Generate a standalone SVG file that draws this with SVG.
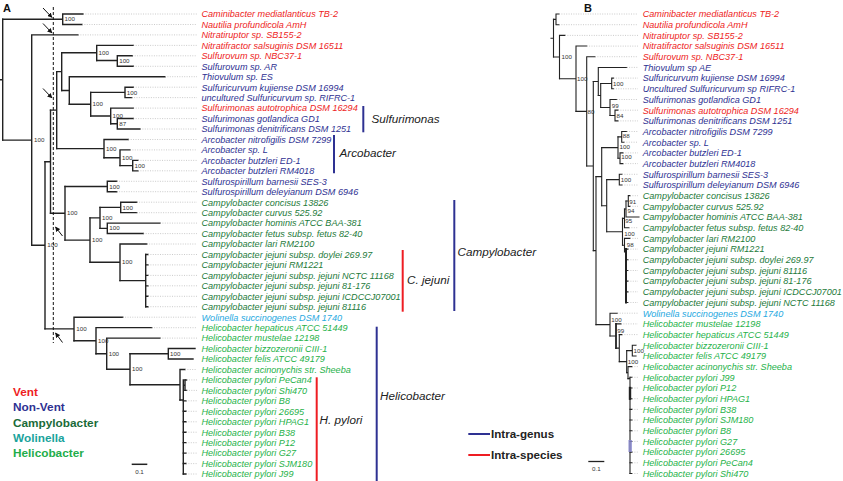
<svg xmlns="http://www.w3.org/2000/svg" width="843" height="481" viewBox="0 0 843 481">
<style>
.t{font-family:"Liberation Sans",Arial,sans-serif;font-style:italic;font-size:9.1px}
.red{fill:#ee1d23}.nv{fill:#2e3192}.cg{fill:#1d7a3a}.wl{fill:#27a9e1}.hg{fill:#26b24a}
.bs{font-family:"Liberation Sans Narrow","Liberation Sans",sans-serif;font-size:6.2px;fill:#333}
.br{stroke:#222;stroke-width:1.4;fill:none;stroke-linecap:square}
.bb{stroke:#222;stroke-width:1.1;fill:none;stroke-linecap:square}
.ld{stroke:#b5b5b5;stroke-width:0.7;stroke-dasharray:1,1.4;fill:none}
.gl{font-family:"Liberation Sans",Arial,sans-serif;font-style:italic;font-size:11.7px;fill:#222}
.lg{font-family:"Liberation Sans",Arial,sans-serif;font-weight:bold;font-size:11.8px}
.pl{font-family:"Liberation Sans",Arial,sans-serif;font-weight:bold;font-size:11px;fill:#111}
.bar{stroke-width:2;fill:none}
.ar{stroke:#111;stroke-width:1;fill:none}
</style>
<defs>
<marker id="ah" viewBox="0 0 10 10" refX="9" refY="5" markerWidth="5" markerHeight="5" orient="auto">
<path d="M0,0 L10,5 L0,10 z" fill="#111"/>
</marker>
</defs>
<rect width="843" height="481" fill="#fff"/>
<text class="pl" x="3" y="12">A</text>
<text class="pl" x="584" y="12">B</text>

<!-- Panel A tree branches -->
<g id="connectors-A" class="br">
<path d="M0,79.7H2.7M2.7,19.2V140.1"/>
<path d="M2.7,19.2H62.7M62.7,14V24.5M62.7,14H83M62.7,24.5H82"/>
<path d="M2.7,140.1H31.7M31.7,34.9V245.3M31.7,34.9H78"/>
<path d="M31.7,245.3H45M45,161.7V328.9"/>
<path d="M45,161.7H50.5M50.5,110.1V213.3"/>
<path d="M50.5,110.1H56.7M56.7,71.6V148.6"/>
<path d="M56.7,71.6H61.7M61.7,52.75V90.46"/>
<path d="M61.7,52.75H96.7M96.7,45.37V60.55M96.7,45.37H133.3"/>
<path d="M96.7,60.55H117.3M117.3,55.82V66.28M117.3,55.82H132.3M117.3,66.28H133.3"/>
<path d="M61.7,90.46H69.3M69.3,76.73V104.18M69.3,76.73H165"/>
<path d="M69.3,104.18H90.7M90.7,92.42V115.94"/>
<path d="M90.7,92.42H125M125,87.19V97.64M125,87.19H133.3M125,97.64H131.7"/>
<path d="M90.7,115.94H110.7M110.7,108.1V123.78M110.7,108.1H133.3"/>
<path d="M110.7,123.78H117.3M117.3,118.55V129.01M117.3,118.55H133.3M117.3,129.01H140"/>
<path d="M56.7,148.6H104M104,139.46V157.76M104,139.46H128.3"/>
<path d="M104,157.76H120M120,149.92V165.6M120,149.92H130"/>
<path d="M120,165.6H132.7M132.7,160.37V170.83M132.7,160.37H138M132.7,170.83H138"/>
<path d="M50.5,213.3H65M65,186.5V240.1"/>
<path d="M65,186.5H107.3M107.3,181.28V191.74M107.3,181.28H116.7M107.3,191.74H116.7"/>
<path d="M65,240.1H90M90,217.88V262.3"/>
<path d="M90,217.88H100M100,207.42V228.33"/>
<path d="M100,207.42H120.7M120.7,202.19V212.65M120.7,202.19H136.7M120.7,212.65H136.7"/>
<path d="M100,228.33H107.3M107.3,223.1V233.56M107.3,223.1H160M107.3,233.56H143.3"/>
<path d="M90,262.3H120M120,244.01V280.6M120,244.01H146.7"/>
<path d="M120,280.6H145.7M145.7,254.47V306.74"/>
<path d="M145.7,254.47H148M145.7,264.92H148M145.7,275.38H148M145.7,285.83H148M145.7,296.29H148M145.7,306.74H148"/>
<path d="M45,328.9H74M74,317.2V340.7M74,317.2H122.7"/>
<path d="M74,340.7H96M96,327.65V353.7M96,327.65H151.7"/>
<path d="M96,353.7H106.7M106.7,338.11V369.25M106.7,338.11H160"/>
<path d="M106.7,369.25H130M130,353.79V384.7"/>
<path d="M130,353.79H168.3M168.3,348.56V359.02M168.3,348.56H195M168.3,359.02H193"/>
<path d="M130,384.7H180M180,369.47V400M180,369.47H185"/>
<path d="M180,400H183.3M183.3,379.93V474.02M183.3,385.2H185M185,379.93V390.38"/>
<path d="M185,379.93H186.5M185,390.38H186.5M183.3,400.84H186M183.3,411.29H186M183.3,421.75H186M183.3,432.2H186M183.3,442.66H186M183.3,453.11H186M183.3,463.57H186M183.3,474.02H186"/>
</g>

<!-- Panel A bootstrap values -->
<g id="bootstrap-A" class="bs">
<text x="64.5" y="21.4">100</text>
<text x="34" y="142.2">100</text>
<text x="47.3" y="247.4">100</text>
<text x="98.5" y="54.9">100</text>
<text x="119.2" y="62.7">100</text>
<text x="126.8" y="94.5">100</text>
<text x="92.6" y="106.3">100</text>
<text x="112.5" y="118">100</text>
<text x="119.2" y="125.9">87</text>
<text x="106" y="150.7">100</text>
<text x="122" y="159.9">100</text>
<text x="134.5" y="167.7">100</text>
<text x="67" y="215.4">100</text>
<text x="109.3" y="188.6">100</text>
<text x="92" y="242.2">100</text>
<text x="102" y="220">100</text>
<text x="122.6" y="209.5">100</text>
<text x="109.3" y="230.4">100</text>
<text x="122" y="264.4">100</text>
<text x="76.3" y="331">100</text>
<text x="98" y="342.8">100</text>
<text x="108.7" y="355.8">100</text>
<text x="132" y="371.3">100</text>
<text x="170" y="355.9">100</text>
</g>

<!-- dashed line and arrows -->
<g id="markers-A">
<path d="M53.3,7V343" stroke="#111" stroke-width="1" stroke-dasharray="3,2" fill="none"/>
<path class="ar" d="M43,8L52,17.5" marker-end="url(#ah)"/>
<path class="ar" d="M43,23.5L52,33" marker-end="url(#ah)"/>
<path class="ar" d="M43,88.5L52,98" marker-end="url(#ah)"/>
<path class="ar" d="M62.5,236L55.5,227" marker-end="url(#ah)"/>
<path class="ar" d="M62.5,342.5L55.5,333" marker-end="url(#ah)"/>
</g>

<!-- Panel A taxa -->
<g id="taxa-A" class="t">
<g id="a01"><path class="ld" d="M83,14H197"/><text class="red" x="201.5" y="17.3">Caminibacter mediatlanticus TB-2</text></g>
<g id="a02"><path class="ld" d="M82,24.5H197"/><text class="red" x="201.5" y="27.8">Nautilia profundicola AmH</text></g>
<g id="a03"><path class="ld" d="M78,34.9H197"/><text class="red" x="201.5" y="38.2">Nitratiruptor sp. SB155-2</text></g>
<g id="a04"><path class="ld" d="M133.3,45.4H197"/><text class="red" x="201.5" y="48.7">Nitratifractor salsuginis DSM 16511</text></g>
<g id="a05"><path class="ld" d="M132.3,55.8H197"/><text class="red" x="201.5" y="59.1">Sulfurovum sp. NBC37-1</text></g>
<g id="a06"><path class="ld" d="M133.3,66.3H197"/><text class="nv" x="201.5" y="69.6">Sulfurovum sp. AR</text></g>
<g id="a07"><path class="ld" d="M165,76.7H197"/><text class="nv" x="201.5" y="80">Thiovulum sp. ES</text></g>
<g id="a08"><path class="ld" d="M133.3,87.2H197"/><text class="nv" x="201.5" y="90.5">Sulfuricurvum kujiense DSM 16994</text></g>
<g id="a09"><path class="ld" d="M131.7,97.6H197"/><text class="nv" x="201.5" y="100.9">uncultured Sulfuricurvum sp. RIFRC-1</text></g>
<g id="a10"><path class="ld" d="M133.3,108.1H197"/><text class="red" x="201.5" y="111.4">Sulfurimonas autotrophica DSM 16294</text></g>
<g id="a11"><path class="ld" d="M133.3,118.6H197"/><text class="nv" x="201.5" y="121.9">Sulfurimonas gotlandica GD1</text></g>
<g id="a12"><path class="ld" d="M140,129H197"/><text class="nv" x="201.5" y="132.3">Sulfurimonas denitrificans DSM 1251</text></g>
<g id="a13"><path class="ld" d="M128.3,139.5H197"/><text class="nv" x="201.5" y="142.8">Arcobacter nitrofigilis DSM 7299</text></g>
<g id="a14"><path class="ld" d="M130,149.9H197"/><text class="nv" x="201.5" y="153.2">Arcobacter sp. L</text></g>
<g id="a15"><path class="ld" d="M138,160.4H197"/><text class="nv" x="201.5" y="163.7">Arcobacter butzleri ED-1</text></g>
<g id="a16"><path class="ld" d="M138,170.8H197"/><text class="nv" x="201.5" y="174.1">Arcobacter butzleri RM4018</text></g>
<g id="a17"><path class="ld" d="M116.7,181.3H197"/><text class="nv" x="201.5" y="184.6">Sulfurospirillum barnesii SES-3</text></g>
<g id="a18"><path class="ld" d="M116.7,191.7H197"/><text class="nv" x="201.5" y="195">Sulfurospirillum deleyianum DSM 6946</text></g>
<g id="a19"><path class="ld" d="M136.7,202.2H197"/><text class="cg" x="201.5" y="205.5">Campylobacter concisus 13826</text></g>
<g id="a20"><path class="ld" d="M136.7,212.7H197"/><text class="cg" x="201.5" y="216">Campylobacter curvus 525.92</text></g>
<g id="a21"><path class="ld" d="M160,223.1H197"/><text class="cg" x="201.5" y="226.4">Campylobacter hominis ATCC BAA-381</text></g>
<g id="a22"><path class="ld" d="M143.3,233.6H197"/><text class="cg" x="201.5" y="236.9">Campylobacter fetus subsp. fetus 82-40</text></g>
<g id="a23"><path class="ld" d="M146.7,244H197"/><text class="cg" x="201.5" y="247.3">Campylobacter lari RM2100</text></g>
<g id="a24"><path class="ld" d="M148,254.5H197"/><text class="cg" x="201.5" y="257.8">Campylobacter jejuni subsp. doylei 269.97</text></g>
<g id="a25"><path class="ld" d="M148,264.9H197"/><text class="cg" x="201.5" y="268.2">Campylobacter jejuni RM1221</text></g>
<g id="a26"><path class="ld" d="M148,275.4H197"/><text class="cg" x="201.5" y="278.7">Campylobacter jejuni subsp. jejuni NCTC 11168</text></g>
<g id="a27"><path class="ld" d="M148,285.8H197"/><text class="cg" x="201.5" y="289.1">Campylobacter jejuni subsp. jejuni 81-176</text></g>
<g id="a28"><path class="ld" d="M148,296.3H197"/><text class="cg" x="201.5" y="299.6">Campylobacter jejuni subsp. jejuni ICDCCJ07001</text></g>
<g id="a29"><path class="ld" d="M148,306.7H197"/><text class="cg" x="201.5" y="310">Campylobacter jejuni subsp. jejuni 81116</text></g>
<g id="a30"><path class="ld" d="M122.7,317.2H197"/><text class="wl" x="201.5" y="320.5">Wolinella succinogenes DSM 1740</text></g>
<g id="a31"><path class="ld" d="M151.7,327.7H197"/><text class="hg" x="201.5" y="331">Helicobacter hepaticus ATCC 51449</text></g>
<g id="a32"><path class="ld" d="M160,338.1H197"/><text class="hg" x="201.5" y="341.4">Helicobacter mustelae 12198</text></g>
<g id="a33"><text class="hg" x="201.5" y="351.9">Helicobacter bizzozeronii CIII-1</text></g>
<g id="a34"><text class="hg" x="201.5" y="362.3">Helicobacter felis ATCC 49179</text></g>
<g id="a35"><path class="ld" d="M185,369.5H197"/><text class="hg" x="201.5" y="372.8">Helicobacter acinonychis str. Sheeba</text></g>
<g id="a36"><path class="ld" d="M186.5,379.9H197"/><text class="hg" x="201.5" y="383.2">Helicobacter pylori PeCan4</text></g>
<g id="a37"><path class="ld" d="M186.5,390.4H197"/><text class="hg" x="201.5" y="393.7">Helicobacter pylori Shi470</text></g>
<g id="a38"><path class="ld" d="M186,400.8H197"/><text class="hg" x="201.5" y="404.1">Helicobacter pylori B8</text></g>
<g id="a39"><path class="ld" d="M186,411.3H197"/><text class="hg" x="201.5" y="414.6">Helicobacter pylori 26695</text></g>
<g id="a40"><path class="ld" d="M186,421.8H197"/><text class="hg" x="201.5" y="425.1">Helicobacter pylori HPAG1</text></g>
<g id="a41"><path class="ld" d="M186,432.2H197"/><text class="hg" x="201.5" y="435.5">Helicobacter pylori B38</text></g>
<g id="a42"><path class="ld" d="M186,442.7H197"/><text class="hg" x="201.5" y="446">Helicobacter pylori P12</text></g>
<g id="a43"><path class="ld" d="M186,453.1H197"/><text class="hg" x="201.5" y="456.4">Helicobacter pylori G27</text></g>
<g id="a44"><path class="ld" d="M186,463.6H197"/><text class="hg" x="201.5" y="466.9">Helicobacter pylori SJM180</text></g>
<g id="a45"><path class="ld" d="M186,474H197"/><text class="hg" x="201.5" y="477.3">Helicobacter pylori J99</text></g>
</g>

<!-- Panel A brackets -->
<g id="brackets-A">
<path class="bar" stroke="#2e3192" d="M363.3,106V132.3"/>
<text class="gl" x="371.5" y="122.8">Sulfurimonas</text>
<path class="bar" stroke="#2e3192" d="M334,135V173.3"/>
<text class="gl" x="339.5" y="156.8">Arcobacter</text>
<path class="bar" stroke="#ee1d23" d="M402.7,250V311.7"/>
<text class="gl" x="407" y="284">C. jejuni</text>
<path class="bar" stroke="#2e3192" d="M454.3,200V311"/>
<text class="gl" x="457.5" y="255.8">Campylobacter</text>
<path class="bar" stroke="#2e3192" d="M376.7,326.7V481"/>
<text class="gl" x="380" y="399.8">Helicobacter</text>
<path class="bar" stroke="#ee1d23" d="M316.7,377.3V481"/>
<text class="gl" x="319.5" y="424">H. pylori</text>
</g>

<!-- Legends -->
<g id="legend-colours" class="lg">
<text x="13" y="395.8" fill="#ee1d23">Vent</text>
<text x="13" y="411.4" fill="#2e3192">Non-Vent</text>
<text x="13" y="426.8" fill="#1a6b38">Campylobacter</text>
<text x="13" y="441.8" fill="#1aa39c">Wolinella</text>
<text x="13" y="457.4" fill="#22ad4a">Helicobacter</text>
</g>
<g id="legend-bars">
<path class="bar" stroke="#2e3192" d="M468.3,434H490"/>
<text class="lg" x="491" y="438.2" fill="#222" style="font-size:11.6px">Intra-genus</text>
<path class="bar" stroke="#ee1d23" d="M468.3,455H490"/>
<text class="lg" x="491" y="459.2" fill="#222" style="font-size:11.6px">Intra-species</text>
</g>
<g id="scale-A">
<path d="M131.7,464.3H147.3" stroke="#222" stroke-width="1.5"/>
<text class="bs" x="139.5" y="474" text-anchor="middle">0.1</text>
</g>

<!-- Panel B tree branches -->
<g id="connectors-B" class="bb">
<path d="M551,38.2H553.5M553.5,19.35V57"/>
<path d="M553.5,19.35H556M556,14V24.69M556,14H559M556,24.69H559"/>
<path d="M553.5,57H559.5M559.5,35.37V78.7M559.5,35.37H565"/>
<path d="M559.5,78.7H576M576,46.06V111.4M576,46.06H586.7"/>
<path d="M576,111.4H586.7M586.7,56.74V166M586.7,56.74H595"/>
<path d="M586.7,166H593.3M593.3,81.46V250.6"/>
<path d="M593.3,81.46H598.3M598.3,67.43V95.48M598.3,67.43H626.7"/>
<path d="M598.3,95.48H600.7M600.7,83.46V107.5"/>
<path d="M600.7,83.46H611.7M611.7,78.12V88.8M611.7,78.12H613.5M611.7,88.8H613.5"/>
<path d="M600.7,107.5H610M610,99.49V115.52M610,99.49H616.7"/>
<path d="M610,115.52H615M615,110.17V120.86M615,110.17H618M615,120.86H618"/>
<path d="M593.3,250.6H596M596,176.6V324.6"/>
<path d="M596,176.6H601.7M601.7,147.58V205.7"/>
<path d="M601.7,147.58H618M618,136.89V158.26"/>
<path d="M618,136.89H621.7M621.7,131.55V142.23M621.7,131.55H626.7M621.7,142.23H624"/>
<path d="M618,158.26H620M620,152.92V163.6M620,152.92H623M620,163.6H623"/>
<path d="M601.7,205.7H606.7M606.7,179.64V231.8"/>
<path d="M606.7,179.64H619.3M619.3,174.29V184.98M619.3,174.29H622M619.3,184.98H622"/>
<path d="M606.7,231.8H622.5M622.5,218.37V245.2"/>
<path d="M622.5,218.37H624.5M624.5,209V227.72M624.5,227.72H629"/>
<path d="M624.5,209H626M626,201V217.03M626,217.03H639"/>
<path d="M626,201H628.3M628.3,195.66V206.35M628.3,195.66H630M628.3,206.35H630"/>
<path d="M622.5,245.2H624.5M624.5,238.41V252M624.5,238.41H630M624.5,252H626"/>
<path d="M626,249.09V302.52" stroke-width="2"/>
<path d="M626,249.09H628M626,259.78H628M626,270.46H628M626,281.15H628M626,291.84H628M626,302.52H628"/>
<path d="M596,324.6H610M610,313.21V336M610,313.21H617.3"/>
<path d="M610,336H616M616,323.89H621M619.3,334.58H622"/>
<path d="M616,323.89V348.1" stroke-width="1.8"/>
<path d="M616,348.1H619.3M619.3,334.58V361.6"/>
<path d="M619.3,361.6H626.7M626.7,350.6V372.6"/>
<path d="M626.7,350.6H632.3M632.3,345.27V355.95M632.3,345.27H636M632.3,355.95H636"/>
<path d="M626.7,372.6H628M628,366.64V378.6M628,366.64H632"/>
<path d="M628,378.6H630M630,377.32V473.5"/>
<path d="M630,388V398.7" stroke-width="2.4"/>
<path d="M630,377.32H632M630,388.01H632M630,398.7H632M630,409.38H632M630,420.07H632M630,430.75H632M630,441.44H632M630,452.12H632M630,462.81H632M630,473.5H632"/>
</g>
<rect x="628.4" y="440" width="3.6" height="12" fill="#8a8ad0" fill-opacity="0.8"/>

<!-- Panel B bootstrap values -->
<g id="bootstrap-B" class="bs">
<text x="561.5" y="59">100</text>
<text x="577" y="81">100</text>
<text x="587.5" y="113.6">80</text>
<text x="613" y="85.5">100</text>
<text x="611.8" y="108.2">99</text>
<text x="616.5" y="118.2">84</text>
<text x="619.5" y="149">100</text>
<text x="622.8" y="138.3">88</text>
<text x="621.3" y="159">100</text>
<text x="620.8" y="182">100</text>
<text x="624.3" y="235.5">100</text>
<text x="625.3" y="223.2">95</text>
<text x="627.5" y="212.9">94</text>
<text x="629.2" y="203.9">91</text>
<text x="626.8" y="247.2">98</text>
<text x="611.3" y="322.2">100</text>
<text x="617.3" y="333.2">99</text>
<text x="627.8" y="363.9">100</text>
<text x="633.5" y="353.2">100</text>
</g>
<g id="scale-B">
<path d="M588.3,461.5H604.3" stroke="#222" stroke-width="1.3"/>
<text class="bs" x="596.3" y="471" text-anchor="middle">0.1</text>
</g>

<!-- Panel B taxa -->
<g id="taxa-B" class="t">
<g id="b01"><path class="ld" d="M559,14H638"/><text class="red" x="642.7" y="17.3">Caminibacter mediatlanticus TB-2</text></g>
<g id="b02"><path class="ld" d="M559,24.7H638"/><text class="red" x="642.7" y="28">Nautilia profundicola AmH</text></g>
<g id="b03"><path class="ld" d="M565,35.4H638"/><text class="red" x="642.7" y="38.7">Nitratiruptor sp. SB155-2</text></g>
<g id="b04"><path class="ld" d="M586.7,46.1H638"/><text class="red" x="642.7" y="49.4">Nitratifractor salsuginis DSM 16511</text></g>
<g id="b05"><path class="ld" d="M595,56.7H638"/><text class="red" x="642.7" y="60">Sulfurovum sp. NBC37-1</text></g>
<g id="b06"><path class="ld" d="M626.7,67.4H638"/><text class="nv" x="642.7" y="70.7">Thiovulum sp AE</text></g>
<g id="b07"><path class="ld" d="M613.5,78.1H638"/><text class="nv" x="642.7" y="81.4">Sulfuricurvum kujiense DSM 16994</text></g>
<g id="b08"><path class="ld" d="M613.5,88.8H638"/><text class="nv" x="642.7" y="92.1">Uncultured Sulfuricurvum sp RIFRC-1</text></g>
<g id="b09"><path class="ld" d="M616.7,99.5H638"/><text class="nv" x="642.7" y="102.8">Sulfurimonas gotlandica GD1</text></g>
<g id="b10"><path class="ld" d="M618,110.2H638"/><text class="red" x="642.7" y="113.5">Sulfurimonas autotrophica DSM 16294</text></g>
<g id="b11"><path class="ld" d="M618,120.9H638"/><text class="nv" x="642.7" y="124.2">Sulfurimonas denitrificans DSM 1251</text></g>
<g id="b12"><path class="ld" d="M626.7,131.5H638"/><text class="nv" x="642.7" y="134.8">Arcobacter nitrofigilis DSM 7299</text></g>
<g id="b13"><path class="ld" d="M624,142.2H638"/><text class="nv" x="642.7" y="145.5">Arcobacter sp. L</text></g>
<g id="b14"><path class="ld" d="M623,152.9H638"/><text class="nv" x="642.7" y="156.2">Arcobacter butzleri ED-1</text></g>
<g id="b15"><path class="ld" d="M623,163.6H638"/><text class="nv" x="642.7" y="166.9">Arcobacter butzleri RM4018</text></g>
<g id="b16"><path class="ld" d="M622,174.3H638"/><text class="nv" x="642.7" y="177.6">Sulfurospirillum barnesii SES-3</text></g>
<g id="b17"><path class="ld" d="M622,185H638"/><text class="nv" x="642.7" y="188.3">Sulfurospirillum deleyianum DSM 6946</text></g>
<g id="b18"><path class="ld" d="M630,195.7H638"/><text class="cg" x="642.7" y="199">Campylobacter concisus 13826</text></g>
<g id="b19"><path class="ld" d="M630,206.3H638"/><text class="cg" x="642.7" y="209.6">Campylobacter curvus 525.92</text></g>
<g id="b20"><text class="cg" x="642.7" y="220.3">Campylobacter hominis ATCC BAA-381</text></g>
<g id="b21"><path class="ld" d="M629,227.7H638"/><text class="cg" x="642.7" y="231">Campylobacter fetus subsp. fetus 82-40</text></g>
<g id="b22"><path class="ld" d="M630,238.4H638"/><text class="cg" x="642.7" y="241.7">Campylobacter lari RM2100</text></g>
<g id="b23"><path class="ld" d="M628,249.1H638"/><text class="cg" x="642.7" y="252.4">Campylobacter jejuni RM1221</text></g>
<g id="b24"><path class="ld" d="M628,259.8H638"/><text class="cg" x="642.7" y="263.1">Campylobacter jejuni subsp. doylei 269.97</text></g>
<g id="b25"><path class="ld" d="M628,270.5H638"/><text class="cg" x="642.7" y="273.8">Campylobacter jejuni subsp. jejuni 81116</text></g>
<g id="b26"><path class="ld" d="M628,281.2H638"/><text class="cg" x="642.7" y="284.4">Campylobacter jejuni subsp. jejuni 81-176</text></g>
<g id="b27"><path class="ld" d="M628,291.8H638"/><text class="cg" x="642.7" y="295.1">Campylobacter jejuni subsp. jejuni ICDCCJ07001</text></g>
<g id="b28"><path class="ld" d="M628,302.5H638"/><text class="cg" x="642.7" y="305.8">Campylobacter jejuni subsp. jejuni NCTC 11168</text></g>
<g id="b29"><path class="ld" d="M617.3,313.2H638"/><text class="wl" x="642.7" y="316.5">Wolinella succinogenes DSM 1740</text></g>
<g id="b30"><path class="ld" d="M621,323.9H638"/><text class="hg" x="642.7" y="327.2">Helicobacter mustelae 12198</text></g>
<g id="b31"><path class="ld" d="M622,334.6H638"/><text class="hg" x="642.7" y="337.9">Helicobacter hepaticus ATCC 51449</text></g>
<g id="b32"><path class="ld" d="M636,345.3H638"/><text class="hg" x="642.7" y="348.6">Helicobacter bizzozeronii CIII-1</text></g>
<g id="b33"><path class="ld" d="M636,356H638"/><text class="hg" x="642.7" y="359.3">Helicobacter felis ATCC 49179</text></g>
<g id="b34"><path class="ld" d="M632,366.6H638"/><text class="hg" x="642.7" y="369.9">Helicobacter acinonychis str. Sheeba</text></g>
<g id="b35"><path class="ld" d="M632,377.3H638"/><text class="hg" x="642.7" y="380.6">Helicobacter pylori J99</text></g>
<g id="b36"><path class="ld" d="M632,388H638"/><text class="hg" x="642.7" y="391.3">Helicobacter pylori P12</text></g>
<g id="b37"><path class="ld" d="M632,398.7H638"/><text class="hg" x="642.7" y="402">Helicobacter pylori HPAG1</text></g>
<g id="b38"><path class="ld" d="M632,409.4H638"/><text class="hg" x="642.7" y="412.7">Helicobacter pylori B38</text></g>
<g id="b39"><path class="ld" d="M632,420.1H638"/><text class="hg" x="642.7" y="423.4">Helicobacter pylori SJM180</text></g>
<g id="b40"><path class="ld" d="M632,430.8H638"/><text class="hg" x="642.7" y="434.1">Helicobacter pylori B8</text></g>
<g id="b41"><path class="ld" d="M632,441.4H638"/><text class="hg" x="642.7" y="444.7">Helicobacter pylori G27</text></g>
<g id="b42"><path class="ld" d="M632,452.1H638"/><text class="hg" x="642.7" y="455.4">Helicobacter pylori 26695</text></g>
<g id="b43"><path class="ld" d="M632,462.8H638"/><text class="hg" x="642.7" y="466.1">Helicobacter pylori PeCan4</text></g>
<g id="b44"><path class="ld" d="M632,473.5H638"/><text class="hg" x="642.7" y="476.8">Helicobacter pylori Shi470</text></g>
</g>
</svg>
